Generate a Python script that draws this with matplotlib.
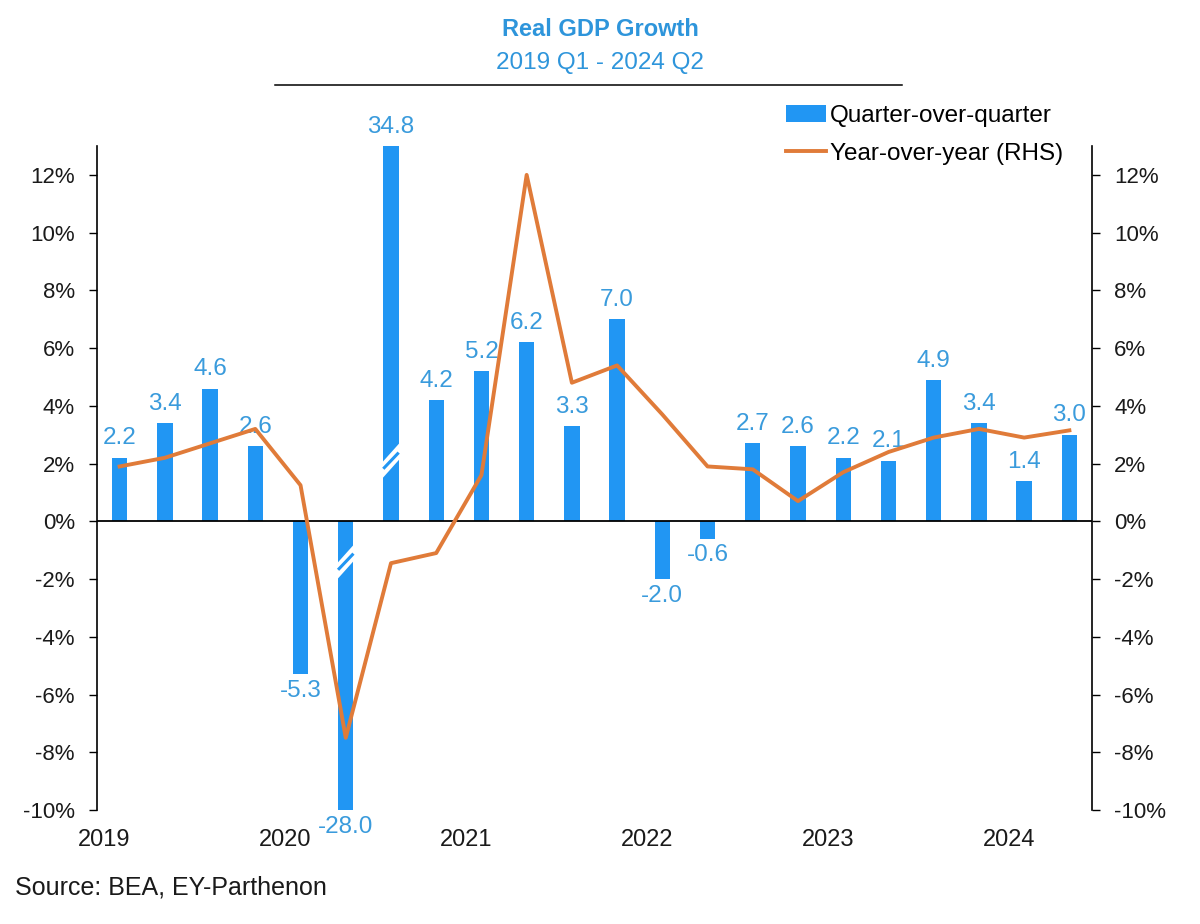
import matplotlib
matplotlib.use("Agg")
import matplotlib.pyplot as plt
from matplotlib.patches import Polygon
from matplotlib.lines import Line2D
from matplotlib.patches import Patch
import numpy as np

plt.rcParams['font.family'] = ['Liberation Sans', 'DejaVu Sans']

quarters = ["2019Q1", "2019Q2", "2019Q3", "2019Q4", "2020Q1", "2020Q2", "2020Q3", "2020Q4",
            "2021Q1", "2021Q2", "2021Q3", "2021Q4", "2022Q1", "2022Q2", "2022Q3", "2022Q4",
            "2023Q1", "2023Q2", "2023Q3", "2023Q4", "2024Q1", "2024Q2"]
qoq = [2.2, 3.4, 4.6, 2.6, -5.3, -28.0, 34.8, 4.2, 5.2, 6.2, 3.3, 7.0,
       -2.0, -0.6, 2.7, 2.6, 2.2, 2.1, 4.9, 3.4, 1.4, 3.0]
yoy = [1.9, 2.2, 2.7, 3.2, 1.25, -7.5, -1.45, -1.1, 1.6, 12.0, 4.8, 5.4,
       3.7, 1.9, 1.8, 0.7, 1.7, 2.4, 2.9, 3.2, 2.9, 3.15]
years = ["2019", "2020", "2021", "2022", "2023", "2024"]
yticks = [-10, -8, -6, -4, -2, 0, 2, 4, 6, 8, 10, 12]

BLUE = "#2196F3"
LBLUE = "#3A9BDC"
ORANGE = "#E07B39"
TXT = "#1a1a1a"
YMIN, YMAX = -10, 13

fig = plt.figure(figsize=(12, 9.24), dpi=100)
ax = fig.add_axes([97/1200, 1-810/924, (1092-97)/1200, (810-146)/924])
x = np.arange(len(quarters))
w = 0.34
ax.bar(x, qoq, width=w, color=BLUE, zorder=2)
ax.axhline(0, color="black", lw=1.3, zorder=3)
ax.set_xlim(-0.5, len(quarters)-0.5)
ax.set_ylim(YMIN, YMAX)
ax.set_yticks(yticks)
ax.set_yticklabels([f"{t}%" for t in yticks], fontsize=16, color=TXT)
ax.tick_params(axis="y", direction="out", length=6, width=1, pad=10)
ax.set_xticks([4*i - 0.34 for i in range(len(years))])
ax.set_xticklabels(years, fontsize=17, color=TXT)
ax.tick_params(axis="x", length=0, pad=14)
for s in ["top", "bottom", "right"]:
    ax.spines[s].set_visible(False)
ax.spines["left"].set_linewidth(1.2)

# break markers on clipped bars
for i, yc in [(6, 2.1), (5, -1.4)]:
    hw = w/2 + 0.03
    d = 0.35
    gap = 0.28
    poly = Polygon([(i-hw, yc-gap-d), (i+hw, yc-gap+d), (i+hw, yc+gap+d), (i-hw, yc+gap-d)],
                   closed=True, facecolor="white", edgecolor="none", zorder=4)
    ax.add_patch(poly)
    ax.plot([i-w/2, i+w/2], [yc-d*0.8, yc+d*0.8], color=BLUE, lw=2.2, zorder=5, solid_capstyle="butt")

# value labels
for i, v in enumerate(qoq):
    if v >= 0:
        yv = min(v, YMAX)
        ax.annotate(f"{v:.1f}", (i, yv), xytext=(0, 6), textcoords="offset points",
                    ha="center", va="bottom", fontsize=17.5, color=LBLUE, annotation_clip=False)
    else:
        yv = max(v, YMIN)
        ax.annotate(f"{v:.1f}", (i, yv), xytext=(0, -4), textcoords="offset points",
                    ha="center", va="top", fontsize=17.5, color=LBLUE, annotation_clip=False)

ax2 = ax.twinx()
ax2.plot(x, yoy, color=ORANGE, lw=2.8, zorder=6)
ax2.set_ylim(YMIN, YMAX)
ax2.set_yticks(yticks)
ax2.set_yticklabels([f"{t}%" for t in yticks], fontsize=16, color=TXT)
ax2.tick_params(axis="y", direction="out", length=6, width=1, pad=10)
for s in ["top", "bottom", "left"]:
    ax2.spines[s].set_visible(False)
ax2.spines["right"].set_linewidth(1.2)

handles = [Patch(facecolor=BLUE, edgecolor="none"), Line2D([0], [0], color=ORANGE, lw=2.8)]
fig.legend(handles, ["Quarter-over-quarter", "Year-over-year (RHS)"], loc="upper left",
           bbox_to_anchor=(764/1200, 1-83/924), frameon=False, fontsize=17.5,
           handlelength=1.65, handletextpad=0.15, labelspacing=0.65, handleheight=0.7)

fig.text(0.5, 1-29/924, "Real GDP Growth", ha="center", va="center", fontsize=17,
         fontweight="bold", color="#2E95DB")
fig.text(0.5, 1-63/924, "2019 Q1 - 2024 Q2", ha="center", va="center", fontsize=17.5,
         color="#2E95DB")
fig.add_artist(Line2D([275/1200, 902/1200], [1-85/924, 1-85/924], color="black", lw=1.1))
fig.text(15/1200, 1-887/924, "Source: BEA, EY-Parthenon", ha="left", va="center",
         fontsize=18, color=TXT)

fig.savefig("out.png", dpi=100)
